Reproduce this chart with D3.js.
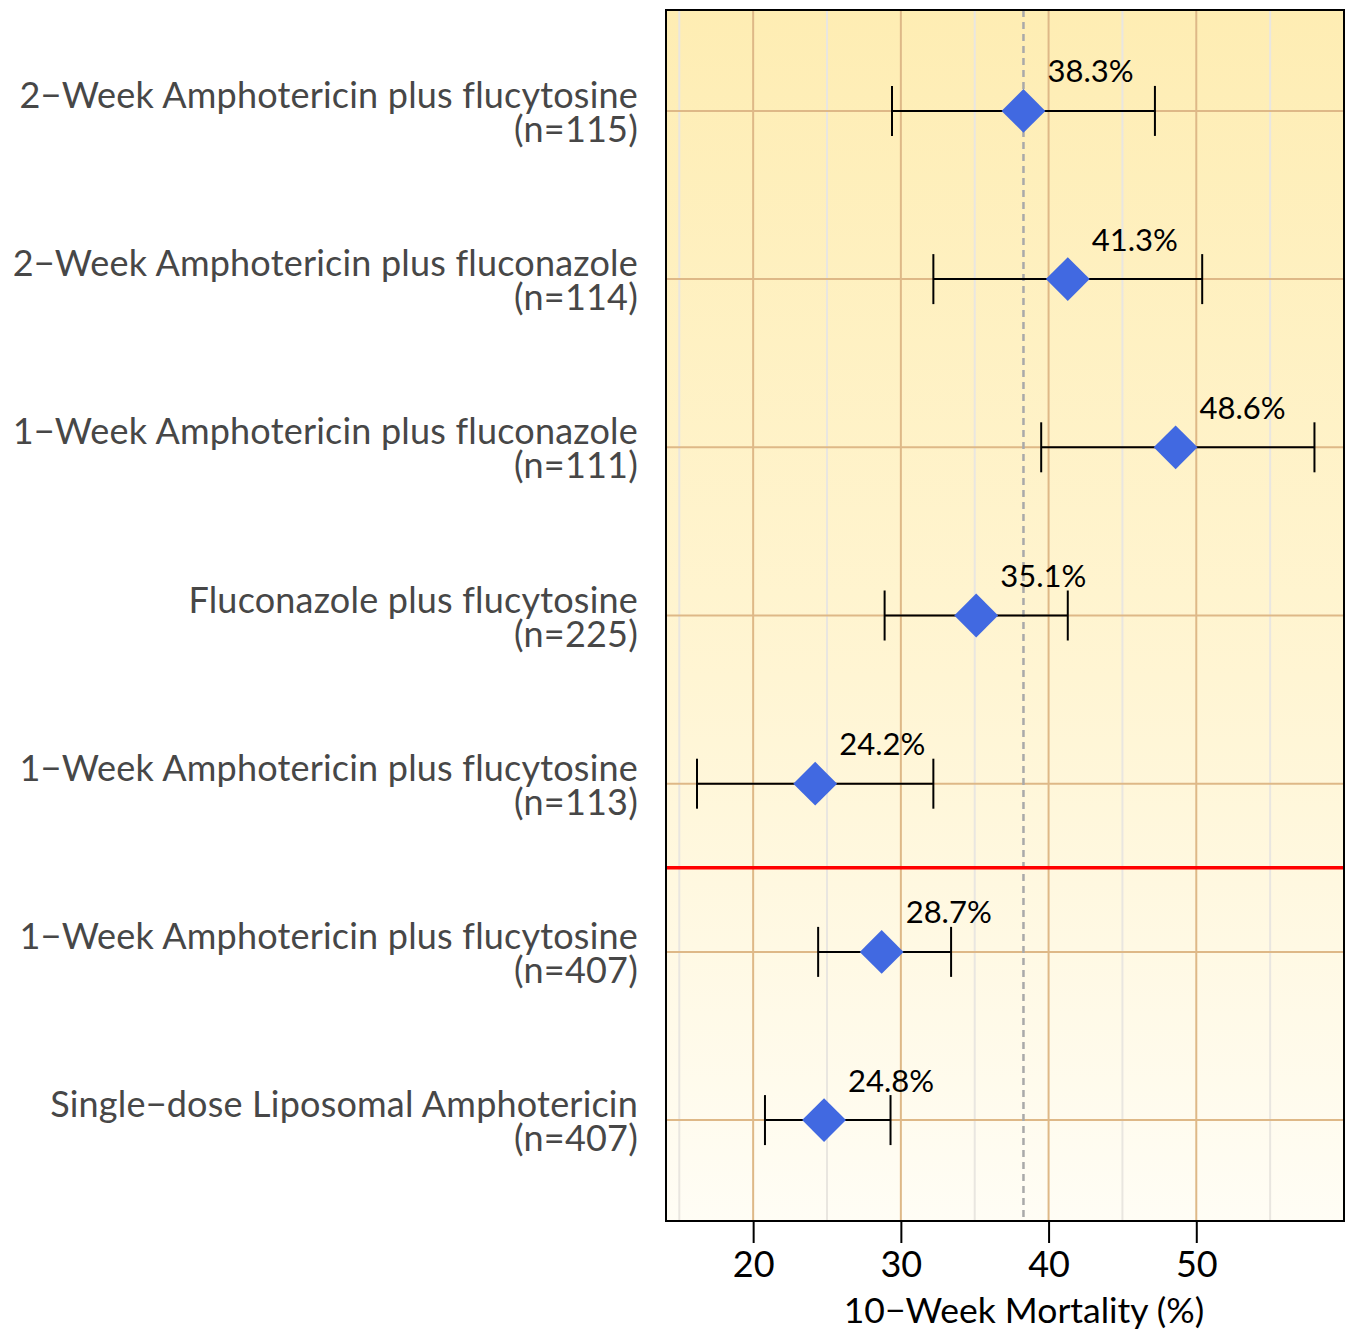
<!DOCTYPE html>
<html>
<head>
<meta charset="utf-8">
<script src="https://cdn.jsdelivr.net/npm/d3@7"></script>
<style>
  html, body { margin: 0; padding: 0; background: #ffffff; }
  svg { display: block; }
</style>
</head>
<body>
<svg id="chart" width="1349" height="1332"></svg>
<script>
// Treatment arms, top to bottom
const categories = [
  "2\u2212Week Amphotericin plus flucytosine",
  "2\u2212Week Amphotericin plus fluconazole",
  "1\u2212Week Amphotericin plus fluconazole",
  "Fluconazole plus flucytosine",
  "1\u2212Week Amphotericin plus flucytosine",
  "1\u2212Week Amphotericin plus flucytosine",
  "Single\u2212dose Liposomal Amphotericin"
];
const sampleSizes = [115, 114, 111, 225, 113, 407, 407];
// 10-week mortality (%) with 95% confidence limits
const mortality = [38.3, 41.3, 48.6, 35.1, 24.2, 28.7, 24.8];
const ciLower   = [29.4, 32.2, 39.5, 28.9, 16.2, 24.4, 20.8];
const ciUpper   = [47.2, 50.4, 58.0, 41.3, 32.2, 33.4, 29.3];
const referenceMortality = 38.3;
const majorTicks = [20, 30, 40, 50];
const minorTicks = [15, 25, 35, 45, 55];
const dividerAfterRow = 5;   // separates the two trials
const axisTitle = "10\u2212Week Mortality (%)";

const svg = d3.select("#chart");
const plot = { left: 666, right: 1344, top: 10, bottom: 1221 };
const font = "Lato, 'Open Sans', sans-serif";

const x = d3.scaleLinear().domain([14.1, 60.0]).range([plot.left, plot.right]);
const y = d3.scaleLinear().domain([0.4, 7.6]).range([plot.top, plot.bottom]);
const rows = categories.map((c, i) => i + 1);

// Panel background: warm vertical gradient
const defs = svg.append("defs");
const grad = defs.append("linearGradient").attr("id", "panelFill")
  .attr("x1", 0).attr("y1", 0).attr("x2", 0).attr("y2", 1);
grad.append("stop").attr("offset", "0%").attr("stop-color", "#feedb3");
grad.append("stop").attr("offset", "55%").attr("stop-color", "#fff5d3");
grad.append("stop").attr("offset", "100%").attr("stop-color", "#fffdf5");

svg.append("rect")
  .attr("x", plot.left).attr("y", plot.top)
  .attr("width", plot.right - plot.left).attr("height", plot.bottom - plot.top)
  .attr("fill", "url(#panelFill)");

// Minor vertical gridlines
svg.append("g").selectAll("line").data(minorTicks).join("line")
  .attr("x1", d => x(d)).attr("x2", d => x(d))
  .attr("y1", plot.top).attr("y2", plot.bottom)
  .attr("stroke", "#e9e6e0").attr("stroke-width", 2);

// Major vertical gridlines
svg.append("g").selectAll("line").data(majorTicks).join("line")
  .attr("x1", d => x(d)).attr("x2", d => x(d))
  .attr("y1", plot.top).attr("y2", plot.bottom)
  .attr("stroke", "#deb887").attr("stroke-width", 2);

// Horizontal gridline through each arm
svg.append("g").selectAll("line").data(rows).join("line")
  .attr("x1", plot.left).attr("x2", plot.right)
  .attr("y1", d => y(d)).attr("y2", d => y(d))
  .attr("stroke", "#deb887").attr("stroke-width", 2);

// Reference line at the first arm's mortality
svg.append("line")
  .attr("x1", x(referenceMortality)).attr("x2", x(referenceMortality))
  .attr("y1", plot.top).attr("y2", plot.bottom)
  .attr("stroke", "#a9a9a9").attr("stroke-width", 2.5)
  .attr("stroke-dasharray", "7,5");

// Divider between trials
svg.append("line")
  .attr("x1", plot.left).attr("x2", plot.right)
  .attr("y1", y(dividerAfterRow + 0.5)).attr("y2", y(dividerAfterRow + 0.5))
  .attr("stroke", "#ff0000").attr("stroke-width", 3.5);

// Confidence intervals
const ci = svg.append("g").attr("stroke", "#000").attr("stroke-width", 2);
rows.forEach((r, i) => {
  const yy = y(r);
  ci.append("line").attr("x1", x(ciLower[i])).attr("x2", x(ciUpper[i]))
    .attr("y1", yy).attr("y2", yy);
  ci.append("line").attr("x1", x(ciLower[i])).attr("x2", x(ciLower[i]))
    .attr("y1", yy - 25).attr("y2", yy + 25);
  ci.append("line").attr("x1", x(ciUpper[i])).attr("x2", x(ciUpper[i]))
    .attr("y1", yy - 25).attr("y2", yy + 25);
});

// Point estimates as diamonds
const diamond = d3.symbol().type(d3.symbolSquare).size(31 * 31);
svg.append("g").selectAll("path").data(rows).join("path")
  .attr("d", diamond)
  .attr("transform", (r, i) => `translate(${x(mortality[i])},${y(r)}) rotate(45)`)
  .attr("fill", "#4169e1");

// Value labels
svg.append("g").selectAll("text").data(rows).join("text")
  .attr("x", (r, i) => x(mortality[i]) + 24)
  .attr("y", r => y(r) - 28.5)
  .attr("font-family", font)
  .attr("font-size", 31)
  .attr("fill", "#000")
  .text((r, i) => mortality[i].toFixed(1) + "%");

// Arm labels (name and sample size), right-aligned beside the panel
const labels = svg.append("g")
  .attr("font-family", font)
  .attr("font-size", 36)
  .attr("letter-spacing", 0.2)
  .attr("fill", "#474747")
  .attr("text-anchor", "end");
rows.forEach((r, i) => {
  const t = labels.append("text").attr("x", 638).attr("y", y(r) - 3);
  t.append("tspan").attr("x", 638).text(categories[i]);
  t.append("tspan").attr("x", 638).attr("dy", 34).text(`(n=${sampleSizes[i]})`);
});

// Panel frame
svg.append("rect")
  .attr("x", plot.left).attr("y", plot.top)
  .attr("width", plot.right - plot.left).attr("height", plot.bottom - plot.top)
  .attr("fill", "none").attr("stroke", "#000").attr("stroke-width", 2);

// X axis
const xAxis = d3.axisBottom(x).tickValues(majorTicks).tickSize(22).tickPadding(8)
  .tickFormat(d3.format("d"));
const gx = svg.append("g").attr("transform", `translate(0,${plot.bottom})`).call(xAxis);
gx.select(".domain").remove();
gx.selectAll(".tick line").attr("stroke", "#000").attr("stroke-width", 2);
gx.selectAll(".tick text")
  .attr("font-family", font)
  .attr("font-size", 36).attr("fill", "#000");

svg.append("text")
  .attr("x", 1024).attr("y", 1323)
  .attr("text-anchor", "middle")
  .attr("font-family", font)
  .attr("font-size", 35.5).attr("fill", "#000")
  .text(axisTitle);
</script>
</body>
</html>
